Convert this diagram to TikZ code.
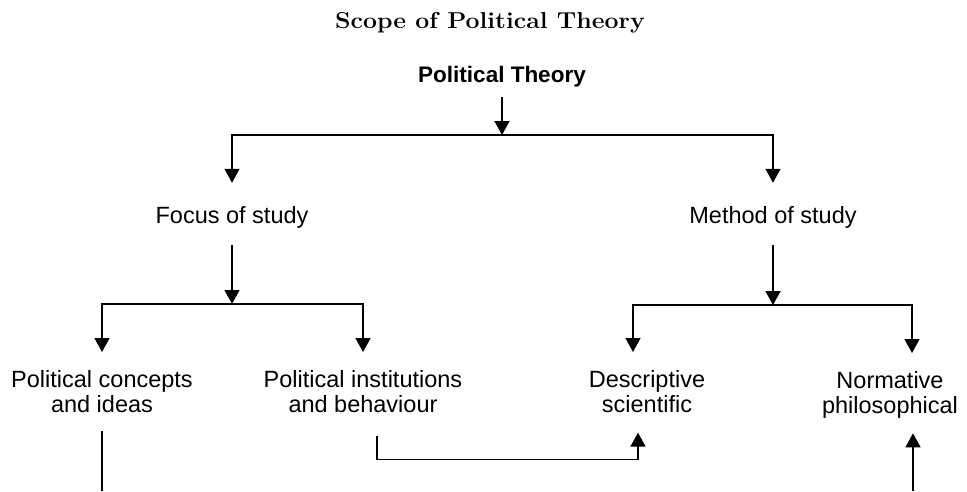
\documentclass[tikz,border=0pt]{standalone}
\usepackage{fontspec}
\usetikzlibrary{arrows.meta}
\newfontfamily\libsans{Liberation Sans}

\begin{document}
\begin{tikzpicture}[x=1pt, y=-1pt,
  lbl/.style={font=\libsans\fontsize{23.5}{25}\selectfont, align=center, inner sep=0pt},
  arr/.style={line width=1.5pt, -{Triangle[length=14pt,width=15pt]}},
  ln/.style={line width=1.5pt}]
  \useasboundingbox (0,0) rectangle (967,491);
  \coordinate (bottom) at (0,491);
  \coordinate (top) at (502,135);
  \coordinate (fork1) at (232,304);
  \coordinate (fork2) at (773,305);
  \node[anchor=base, font=\bfseries\fontsize{23}{26}\selectfont] (title) at (490,28) {\scalebox{1.08}[1]{Scope of Political Theory}};
  \node[lbl, anchor=base, font=\libsans\bfseries\fontsize{22.5}{26}\selectfont] (theory) at (502,82) {Political Theory};
  \node[lbl, anchor=base] (focus) at (232,223) {Focus of study};
  \node[lbl, anchor=base] (method) at (773,223) {Method of study};
  \node[lbl, anchor=north] (concepts) at (102,370) {Political concepts\\and ideas};
  \node[lbl, anchor=north] (inst) at (363,370) {Political institutions\\and behaviour};
  \node[lbl, anchor=north] (desc) at (647,370) {Descriptive\\scientific};
  \node[lbl, anchor=north] (norm) at (890,371) {Normative\\philosophical};
  \draw[arr, shorten <=10pt] (theory.south) -- (top);
  \draw[arr, shorten >=23pt] (top) -| (focus.north);
  \draw[arr, shorten >=23pt] (top) -| (method.north);
  \draw[arr, shorten <=17pt] (focus.south) -- (fork1);
  \draw[arr, shorten >=18pt] (fork1) -| (concepts.north);
  \draw[arr, shorten >=18pt] (fork1) -| (inst.north);
  \draw[arr, shorten <=17pt] (method.south) -- (fork2);
  \draw[arr, shorten >=18pt] (fork2) -| ([xshift=-14pt]desc.north);
  \draw[arr, shorten >=18pt] (fork2) -| ([xshift=22pt]norm.north);
  \draw[ln, shorten <=18pt] (concepts.south) -- (concepts.south |- bottom);
  \draw[arr] ([xshift=14pt,yshift=-23pt]inst.south) -- ++(0,24) -| ([xshift=-9pt,yshift=-20pt]desc.south);
  \draw[arr] ([xshift=23pt]norm.south |- bottom) -- ([xshift=23pt,yshift=-15pt]norm.south);
\end{tikzpicture}
\end{document}
